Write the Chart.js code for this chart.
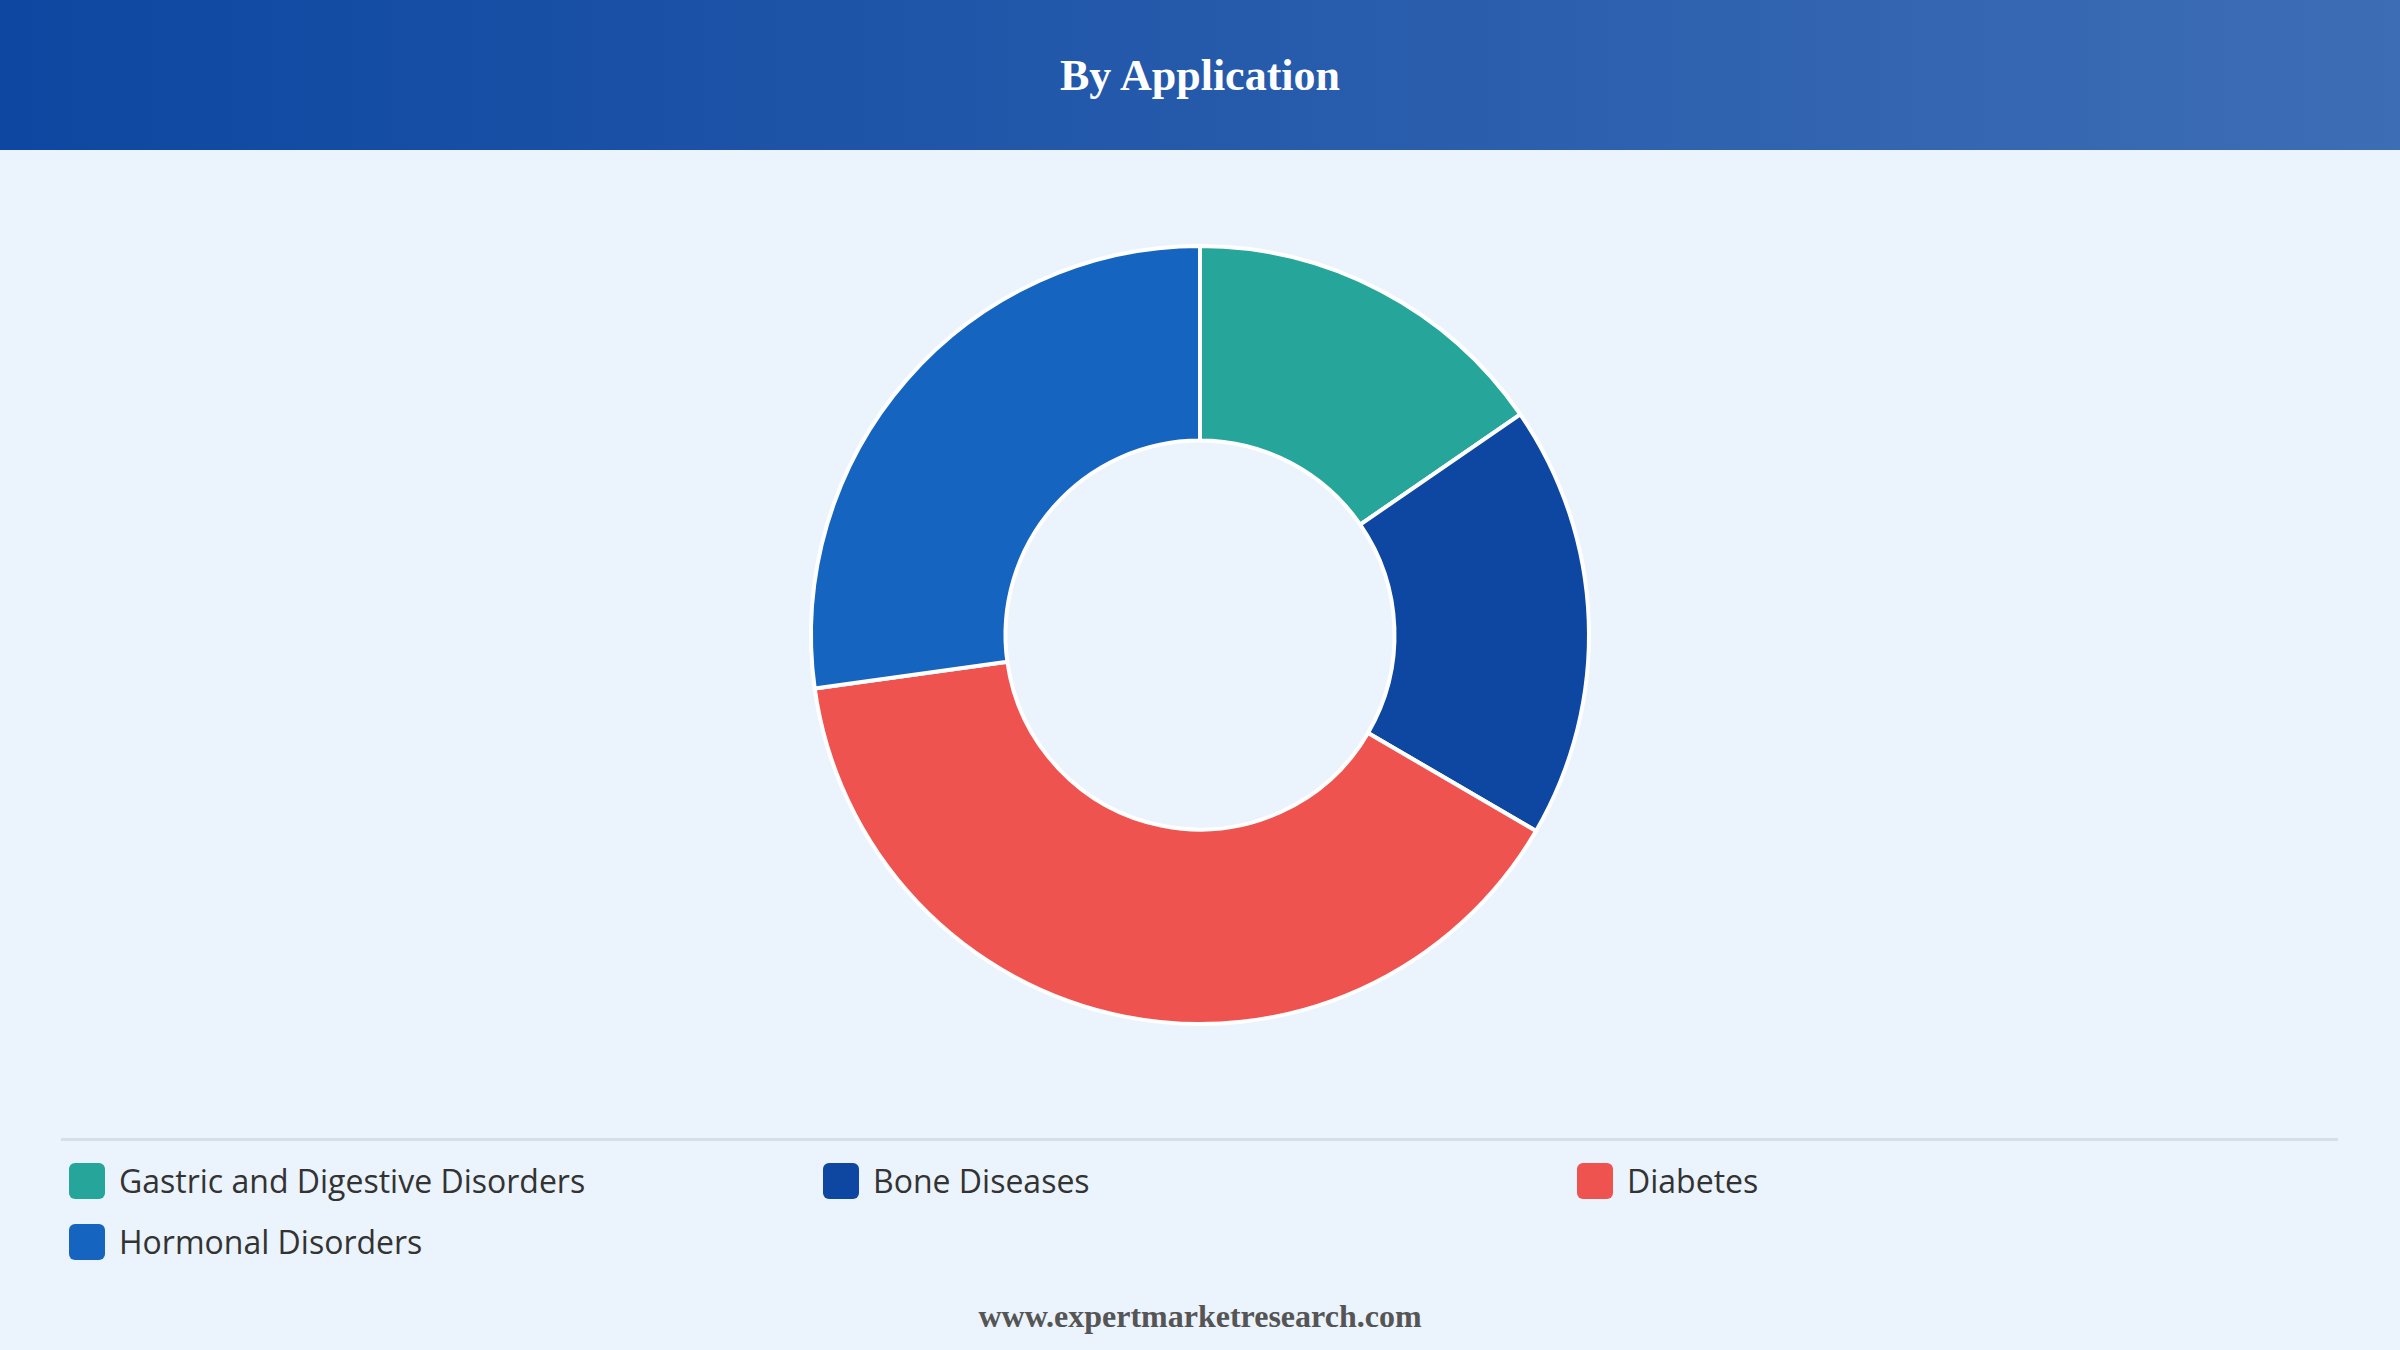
<!DOCTYPE html>
<html>
<head>
<meta charset="utf-8">
<script src="https://cdn.jsdelivr.net/npm/chart.js@4"></script>
<style>
  body { margin: 0; width: 2400px; height: 1350px; background: #EBF3FC; overflow: hidden; font-family: "Open Sans", sans-serif; }
  .header { height: 150px; background: linear-gradient(90deg, #0D47A1, #3D6DB5); display: flex; align-items: center; justify-content: center; }
  .header h1 { margin: 0; color: #fff; font-family: "Liberation Serif", serif; font-size: 44px; font-weight: bold; }
  .chart-box { position: absolute; left: 0; top: 150px; width: 2400px; height: 970px; }
  .legend { position: absolute; left: 61px; top: 1138px; width: 2277px; border-top: 3px solid #D6DEE8; display: grid; grid-template-columns: 754px 754px 754px; padding-top: 18px; row-gap: 18px; }
  .legend div { display: flex; align-items: center; font-size: 32px; color: #333; }
  .legend span { width: 36px; height: 36px; border-radius: 6px; margin: 0 14px 0 8px; display: inline-block; }
  .footer { position: absolute; top: 1298px; width: 2400px; text-align: center; font-family: "Liberation Serif", serif; font-weight: bold; font-size: 32px; color: #555; }
</style>
</head>
<body>
<div class="header"><h1>By Application</h1></div>
<div class="chart-box"><canvas id="chart"></canvas></div>
<div class="legend" id="legend"></div>
<div class="footer">www.expertmarketresearch.com</div>
<script>
// segments, clockwise from top
const categories = ["Gastric and Digestive Disorders", "Bone Diseases", "Diabetes", "Hormonal Disorders"];
const shares = [15.4, 18.0, 39.4, 27.2];
const colors = ["#26A69A", "#0D47A1", "#EF5350", "#1565C0"];

new Chart(document.getElementById("chart"), {
  type: "doughnut",
  data: {
    labels: categories,
    datasets: [{ data: shares, backgroundColor: colors, borderColor: "#fff", borderWidth: 4 }],
  },
  options: {
    responsive: true,
    maintainAspectRatio: false,
    animation: false,
    cutout: "50%",
    layout: { padding: 94 },
    plugins: { legend: { display: false }, tooltip: { enabled: false } },
  },
});

// html legend
const legend = document.getElementById("legend");
categories.forEach((name, i) => {
  const item = document.createElement("div");
  item.innerHTML = `<span style="background:${colors[i]}"></span>${name}`;
  legend.appendChild(item);
});
</script>
</body>
</html>
